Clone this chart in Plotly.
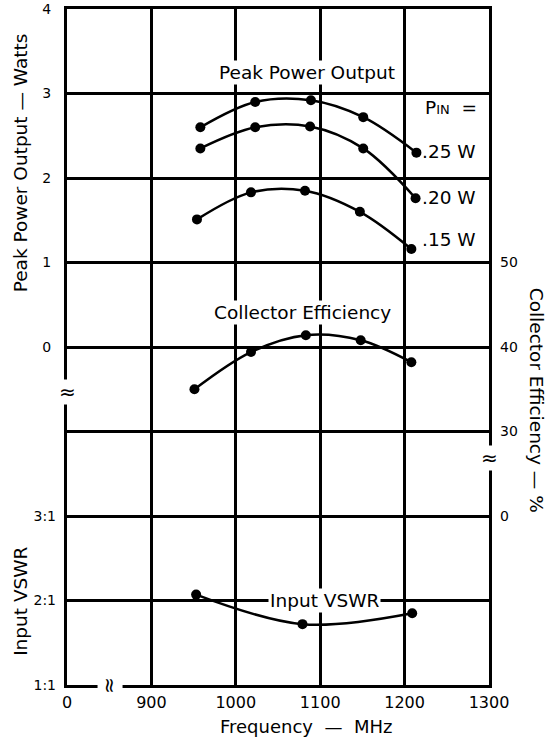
import plotly.graph_objects as go

# ---- data ----
freq_ticks = [800, 900, 1000, 1100, 1200, 1300]
freq_tick_text = ["0", "900", "1000", "1100", "1200", "1300"]

pin_25_freq = [958, 1023, 1089, 1151, 1214]
pin_25_pout = [2.60, 2.90, 2.92, 2.72, 2.30]

pin_20_freq = [958, 1023, 1088, 1151, 1213]
pin_20_pout = [2.35, 2.60, 2.61, 2.35, 1.76]

pin_15_freq = [954, 1018, 1082, 1147, 1208]
pin_15_pout = [1.51, 1.83, 1.85, 1.60, 1.16]

eff_freq = [951, 1018, 1083, 1148, 1208]
eff_pct = [35.0, 39.4, 41.4, 40.8, 38.2]

vswr_freq = [953, 1079, 1209]
vswr_val = [2.07, 1.72, 1.85]

power_ticks = [-4, -3, -2, -1, 0, 1, 2, 3, 4]
power_tick_text = ["", "", "", "", "0", "1", "2", "3", "4"]
eff_ticks = [20, 30, 40, 50]
eff_tick_text = ["0", "30", "40", "50"]
vswr_ticks = [1, 2, 3]
vswr_tick_text = ["1:1", "2:1", "3:1"]

FONT = "DejaVu Sans"
line_style = dict(color="black", width=2.5, shape="spline", smoothing=1.0)
marker_style = dict(color="black", size=10)

fig = go.Figure()
for fx, fy in [(pin_25_freq, pin_25_pout), (pin_20_freq, pin_20_pout), (pin_15_freq, pin_15_pout)]:
    fig.add_trace(go.Scatter(x=fx, y=fy, mode="lines+markers", line=line_style,
                             marker=marker_style, yaxis="y", showlegend=False))
fig.add_trace(go.Scatter(x=eff_freq, y=eff_pct, mode="lines+markers", line=line_style,
                         marker=marker_style, yaxis="y2", showlegend=False))
fig.add_trace(go.Scatter(x=vswr_freq, y=vswr_val, mode="lines+markers", line=line_style,
                         marker=marker_style, yaxis="y3", showlegend=False))

tickfont_y = dict(family=FONT, size=14, color="black")
tickfont_x = dict(family=FONT, size=16, color="black")
lab = dict(family=FONT, size=18.5, color="black")
xlab = dict(family=FONT, size=18, color="black")

fig.update_layout(
    width=547, height=744,
    margin=dict(l=67, r=58, t=9, b=59, autoexpand=False),
    paper_bgcolor="white", plot_bgcolor="white",
    xaxis=dict(range=[800, 1300], tickvals=freq_ticks, ticktext=freq_tick_text,
               showgrid=True, gridcolor="black", gridwidth=2.5, zeroline=False,
               showline=True, mirror=True, linecolor="black", linewidth=3,
               ticks="", tickfont=tickfont_x, ticklabelstandoff=1, automargin=False),
    yaxis=dict(range=[-4, 4], tickvals=power_ticks, ticktext=power_tick_text,
               showgrid=True, gridcolor="black", gridwidth=2.5, zeroline=False,
               showline=True, mirror=True, linecolor="black", linewidth=3,
               ticks="", tickfont=tickfont_y, ticklabelstandoff=10, automargin=False),
    yaxis2=dict(range=[0, 80], overlaying="y", side="right", anchor="x",
                tickvals=eff_ticks, ticktext=eff_tick_text, showgrid=False,
                zeroline=False, showline=False, ticks="", tickfont=tickfont_y,
                ticklabelstandoff=10, automargin=False),
    yaxis3=dict(range=[1, 9], overlaying="y", side="left", anchor="x",
                tickvals=vswr_ticks, ticktext=vswr_tick_text, showgrid=False,
                zeroline=False, showline=False, ticks="", tickfont=tickfont_y,
                ticklabelstandoff=10, automargin=False),
)

C = dict(xanchor="center", yanchor="middle", showarrow=False)
ann = []
# in-plot labels
ann.append(dict(x=1084, y=3.245, xref="x", yref="y", text="Peak Power Output",
                font=lab, bgcolor="white", borderpad=1, **C))
ann.append(dict(x=1079, y=0.41, xref="x", yref="y", text="Collector Efficiency",
                font=lab, bgcolor="white", borderpad=1, **C))
ann.append(dict(x=1105, y=2.0, xref="x", yref="y3", text="Input VSWR",
                font=lab, bgcolor="white", borderpad=1, **C))
ann.append(dict(x=1255, y=2.83, xref="x", yref="y",
                text="P<span style='font-size:13px'>IN</span>  =", font=lab, **C))
for txt, yy in [(".25 W", 2.31), (".20 W", 1.77), (".15 W", 1.27)]:
    ann.append(dict(x=1253, y=yy, xref="x", yref="y", text=txt, font=lab, **C))

# axis titles
ann.append(dict(x=-0.111, y=0.772, xref="paper", yref="paper", text="Peak Power Output — Watts",
                textangle=-90, font=lab, **C))
ann.append(dict(x=-0.109, y=0.123, xref="paper", yref="paper", text="Input VSWR",
                textangle=-90, font=lab, **C))
ann.append(dict(x=1.112, y=0.4216, xref="paper", yref="paper", text="Collector Efficiency — %",
                textangle=90, font=lab, **C))
ann.append(dict(x=0.566, y=-0.062, xref="paper", yref="paper", text="Frequency  —  MHz",
                font=xlab, **C))

# axis break marks
brk = dict(family=FONT, size=20, color="black")
ann.append(dict(x=0, y=0.433, xref="paper", yref="paper", text="≈",
                font=brk, bgcolor="white", borderpad=0, **C))
ann.append(dict(x=1, y=0.336, xref="paper", yref="paper", text="≈",
                font=brk, bgcolor="white", borderpad=0, **C))
ann.append(dict(x=0.102, y=0, xref="paper", yref="paper", text="≈", textangle=90,
                font=brk, bgcolor="white", borderpad=0, **C))

fig.update_layout(annotations=ann)
fig.write_html("out.html", config={"displayModeBar": False},
               post_script="document.body.style.margin='0';document.body.style.overflow='hidden';")
